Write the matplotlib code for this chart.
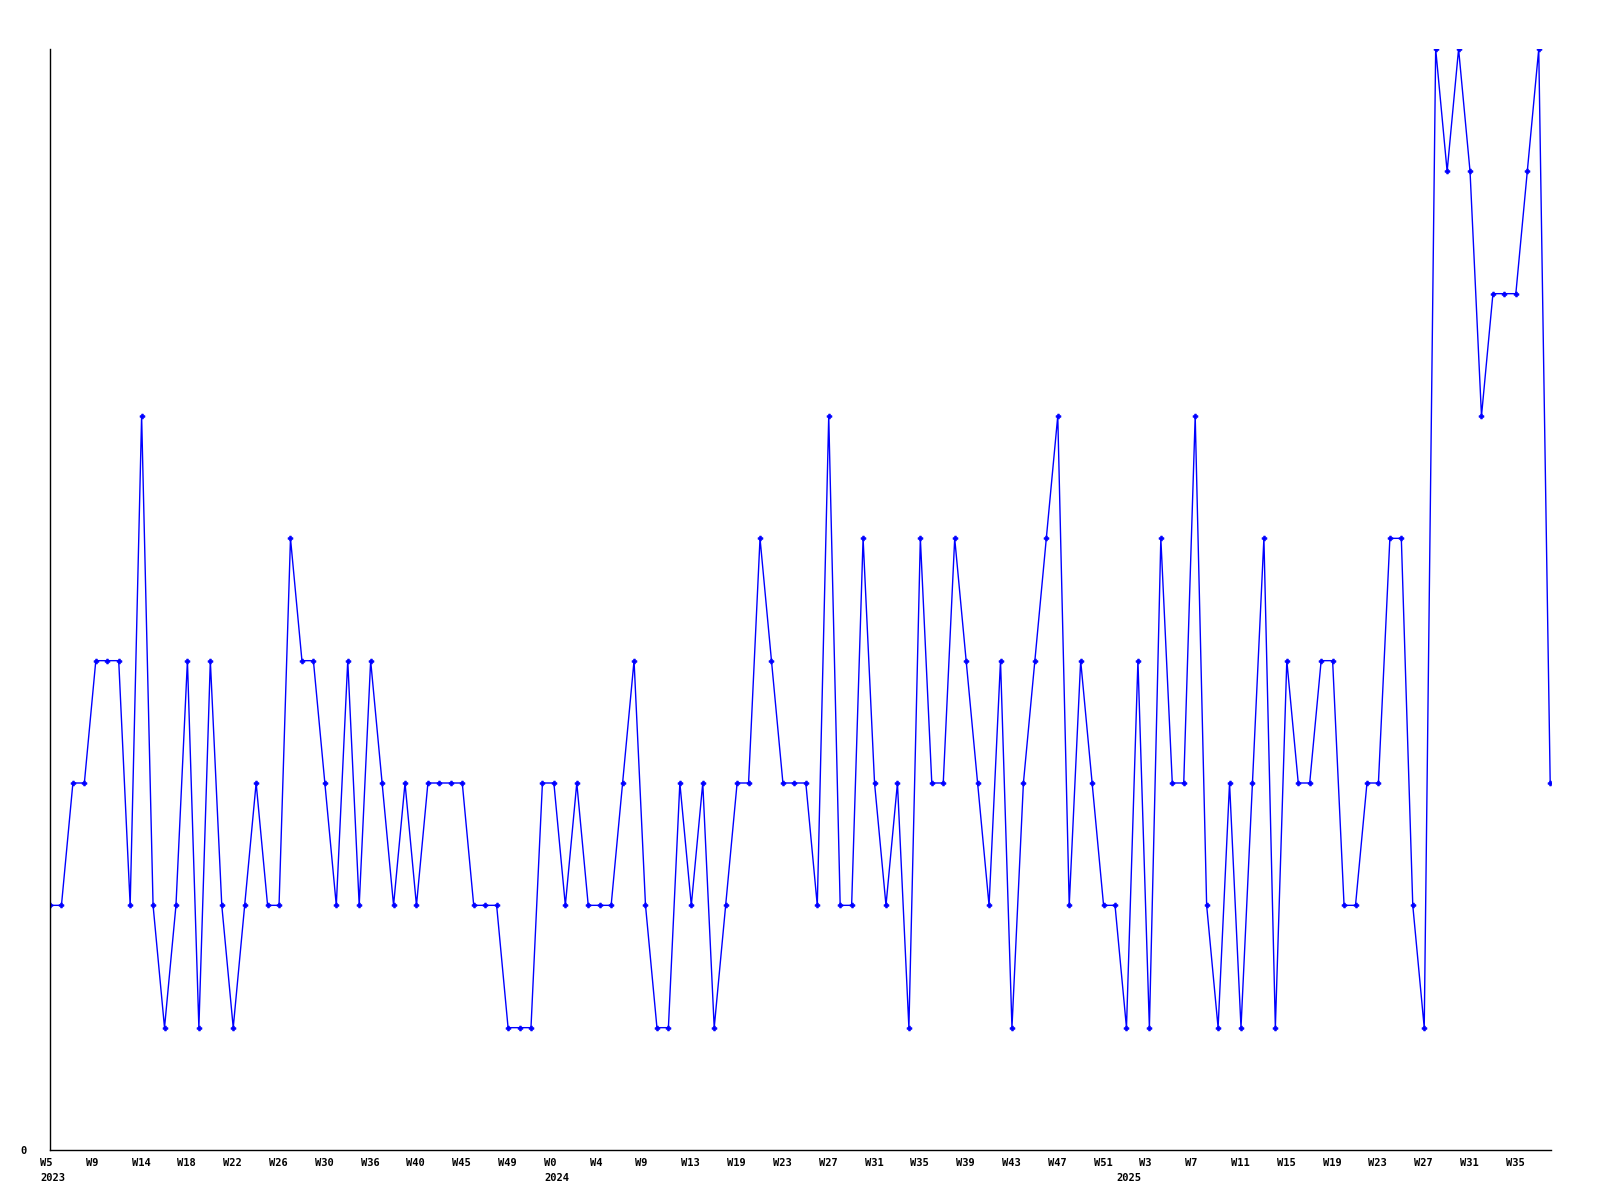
import matplotlib
matplotlib.use("Agg")
import matplotlib.pyplot as plt
import matplotlib.transforms as mtransforms

# weekly values, one per point
values = [2, 2, 3, 3, 4, 4, 4, 2, 6, 2, 1, 2, 4, 1, 4, 2, 1, 2, 3, 2,
          2, 5, 4, 4, 3, 2, 4, 2, 4, 3, 2, 3, 2, 3, 3, 3, 3, 2, 2, 2,
          1, 1, 1, 3, 3, 2, 3, 2, 2, 2, 3, 4, 2, 1, 1, 3, 2, 3, 1, 2,
          3, 3, 5, 4, 3, 3, 3, 2, 6, 2, 2, 5, 3, 2, 3, 1, 5, 3, 3, 5,
          4, 3, 2, 4, 1, 3, 4, 5, 6, 2, 4, 3, 2, 2, 1, 4, 1, 5, 3, 3,
          6, 2, 1, 3, 1, 3, 5, 1, 4, 3, 3, 4, 4, 2, 2, 3, 3, 5, 5, 2,
          1, 9, 8, 9, 8, 6, 7, 7, 7, 8, 9, 3]

week_labels = ["W5", "W9", "W14", "W18", "W22", "W26", "W30", "W36", "W40",
               "W45", "W49", "W0", "W4", "W9", "W13", "W19", "W23", "W27",
               "W31", "W35", "W39", "W43", "W47", "W51", "W3", "W7", "W11",
               "W15", "W19", "W23", "W27", "W31", "W35"]
label_step = 4

years = ["2023", "2024", "2025"]
year_index = [0, 44, 94]

x = list(range(len(values)))

fig = plt.figure(figsize=(16, 12), dpi=100)
ax = fig.add_axes([50 / 1600, 1 - 1150 / 1200, 1501 / 1600, 1101 / 1200])

ax.plot(x, values, color="#0000ff", lw=1.0, marker="P", markersize=3.5,
        markerfacecolor="#0000ff", markeredgecolor="#0000ff",
        markeredgewidth=0.5)

ax.set_xlim(0, 131.07)
ax.set_ylim(0, 9)

for s in ["top", "right"]:
    ax.spines[s].set_visible(False)
for s in ["left", "bottom"]:
    ax.spines[s].set_color("black")
    ax.spines[s].set_linewidth(1.0)

font = dict(family="DejaVu Sans Mono", weight="bold", size=7.5)

ax.set_yticks([0])
ax.set_yticklabels(["0"], **font)
ax.tick_params(axis="y", length=0, pad=17)

ticks = [i * label_step for i in range(len(week_labels))]
ax.set_xticks(ticks)
ax.set_xticklabels(week_labels, **font)
ax.tick_params(axis="x", length=0, pad=6)
shift = mtransforms.ScaledTranslation(-10 / 100, 0, fig.dpi_scale_trans)
for lab in ax.get_xticklabels():
    lab.set_horizontalalignment("left")
    lab.set_transform(lab.get_transform() + shift)

for yr, idx in zip(years, year_index):
    ax.annotate(yr, xy=(idx, 0), xycoords=("data", "axes fraction"),
                xytext=(-10, -28), textcoords="offset pixels",
                ha="left", va="center", **font)

fig.savefig("out.png", dpi=100, facecolor="white")
